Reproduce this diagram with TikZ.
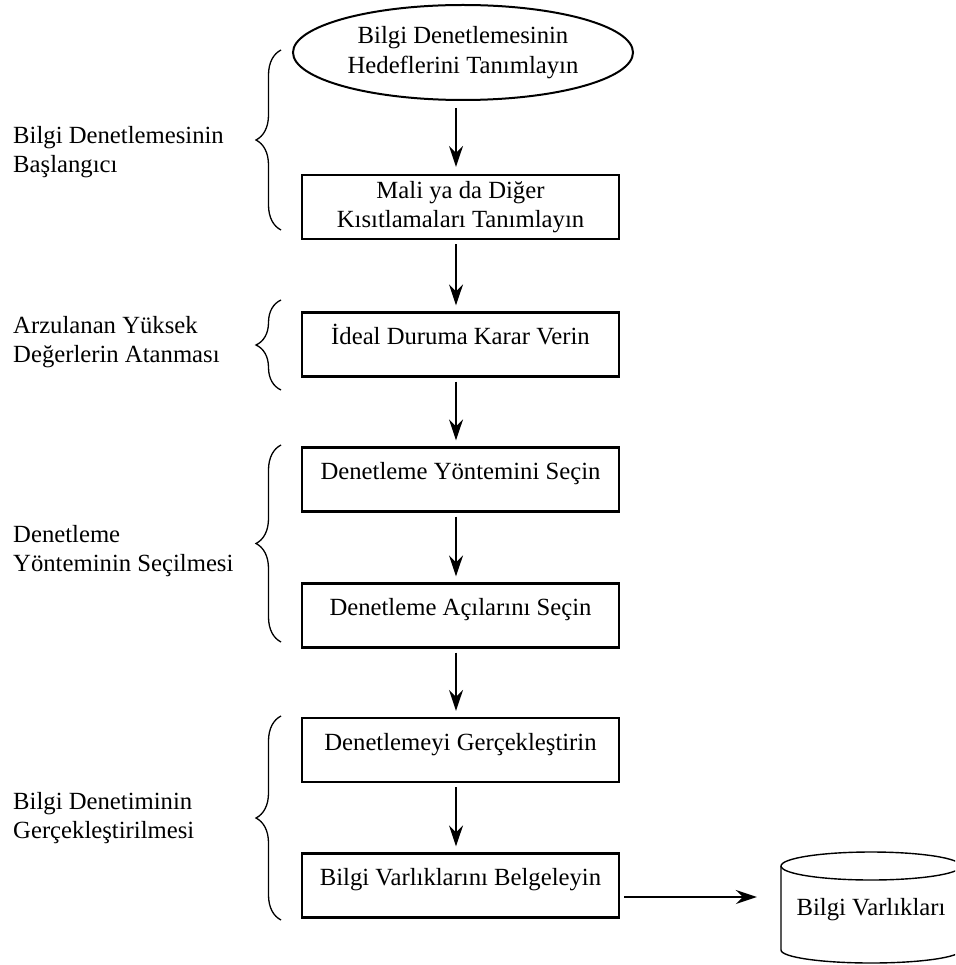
\documentclass[tikz,border=0pt]{standalone}
\usepackage{fontspec}
\setmainfont{Liberation Serif}
\usetikzlibrary{arrows.meta,shapes.geometric,decorations.pathreplacing}

\tikzset{
  every node/.style={font=\fontsize{24.7}{29.5}\selectfont},
  stepbox/.style={draw, line width=2.2pt, rectangle, minimum width=317pt,
                  minimum height=64pt, inner sep=0pt},
  onelinebox/.style={stepbox, text height=10pt, text depth=10pt},
  startoval/.style={draw, line width=2pt, ellipse, minimum width=340pt,
                    minimum height=95pt, inner sep=0pt, align=center},
  phase/.style={anchor=west, align=left, inner sep=0pt},
  flow/.style={line width=2pt, -{Stealth[length=21pt,width=14pt,inset=7pt]}},
  phasebrace/.style={decorate, decoration={brace, amplitude=25pt}, line width=1.3pt},
  store/.style={line width=1.4pt},
}

\begin{document}
\begin{tikzpicture}[x=1pt,y=1pt]
  \useasboundingbox (0,0) rectangle (955,-965);
  \fill[white] (0,0) rectangle (955,-965);

  % vertical line of the flow arrows and height of the output arrow
  \coordinate (ax) at (456,0);
  \coordinate (hy) at (0,-897);

  % process steps
  \node[startoval] (goal) at (463,-52.5) {Bilgi Denetlemesinin\\Hedeflerini Tanımlayın};
  \node[stepbox, align=center] (limits) at (460.5,-207) {Mali ya da Diğer\\Kısıtlamaları Tanımlayın};
  \node[onelinebox] (ideal) at (460.5,-344.5) {İdeal Duruma Karar Verin};
  \node[onelinebox] (method) at (460.5,-479.5) {Denetleme Yöntemini Seçin};
  \node[onelinebox] (angles) at (460.5,-615.5) {Denetleme Açılarını Seçin};
  \node[onelinebox] (perform) at (460.5,-750) {Denetlemeyi Gerçekleştirin};
  \node[onelinebox] (record) at (460.5,-885.5) {Bilgi Varlıklarını Belgeleyin};

  % data store
  \node[minimum width=180pt, minimum height=84pt, inner sep=0pt] (assets) at (871,-910) {Bilgi Varlıkları};
  \begin{scope}
    \clip (0,0) rectangle (955,-965);
    \draw[store] (871,-866) ellipse [x radius=90, y radius=14];
    \draw[store] (781,-866) -- (781,-950)
      arc[start angle=180, end angle=360, x radius=90, y radius=13] -- (961,-866);
  \end{scope}

  % flow arrows
  \draw[flow, shorten <=7pt, shorten >=7pt] (goal.south -| ax) -- (limits.north -| ax);
  \draw[flow, shorten <=4pt, shorten >=6pt] (limits.south -| ax) -- (ideal.north -| ax);
  \draw[flow, shorten <=4pt, shorten >=6pt] (ideal.south -| ax) -- (method.north -| ax);
  \draw[flow, shorten <=4pt, shorten >=6pt] (method.south -| ax) -- (angles.north -| ax);
  \draw[flow, shorten <=4pt, shorten >=6pt] (angles.south -| ax) -- (perform.north -| ax);
  \draw[flow, shorten <=4pt, shorten >=6pt] (perform.south -| ax) -- (record.north -| ax);
  \draw[flow, shorten <=4pt, shorten >=24pt] (record.east |- hy) -- (assets.west |- hy);

  % phase labels and braces
  \node[phase] (ph1) at (13,-152) {Bilgi Denetlemesinin\\Başlangıcı};
  \node[phase] (ph2) at (13,-342) {Arzulanan Yüksek\\Değerlerin Atanması};
  \node[phase] (ph3) at (13,-551) {Denetleme\\Yönteminin Seçilmesi};
  \node[phase] (ph4) at (13,-818) {Bilgi Denetiminin\\Gerçekleştirilmesi};

  \draw[phasebrace] (281,-230) -- (281,-50);
  \draw[phasebrace] (281,-390) -- (281,-300);
  \draw[phasebrace] (281,-642) -- (281,-445);
  \draw[phasebrace] (281,-920) -- (281,-716);
\end{tikzpicture}
\end{document}
